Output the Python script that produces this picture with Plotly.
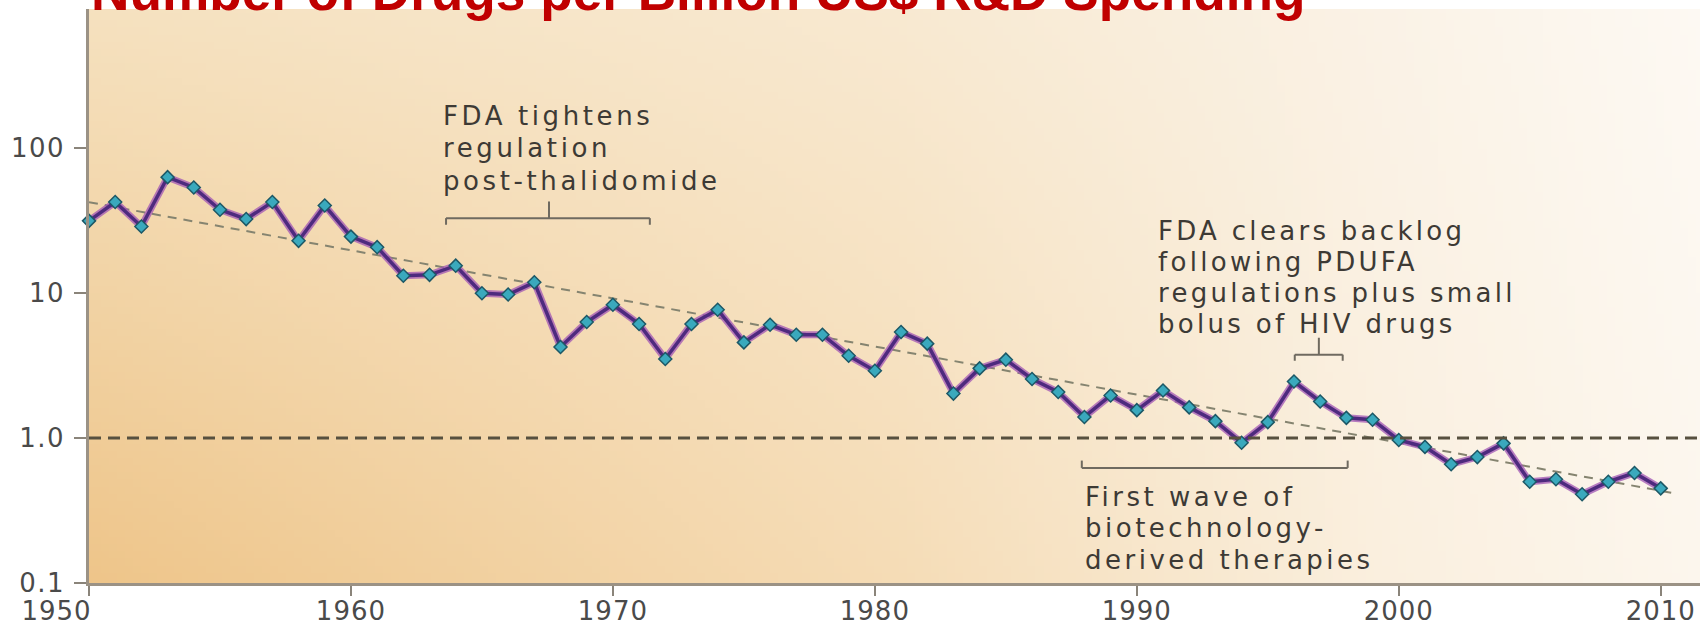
import math
import zlib
import struct
import base64
import plotly.graph_objects as go

# ---------------- data ----------------
years = list(range(1950, 2011))
drugs_per_billion = [
    31.6, 42.6, 28.9, 63.3, 53.7, 37.7, 32.5, 42.6, 23.0, 40.3,
    24.6, 20.8, 13.2, 13.4, 15.5, 10.0, 9.8, 11.9, 4.26, 6.33,
    8.33, 6.13, 3.52, 6.13, 7.70, 4.58, 6.06, 5.17, 5.17, 3.70,
    2.92, 5.40, 4.49, 2.03, 3.03, 3.48, 2.56, 2.08, 1.40, 1.97,
    1.56, 2.13, 1.63, 1.31, 0.93, 1.29, 2.46, 1.79, 1.38, 1.34,
    0.97, 0.87, 0.66, 0.74, 0.92, 0.50, 0.52, 0.41, 0.50, 0.575,
    0.45,
]
trend_years = [1950, 2010.4]
trend_values = [42.5, 0.42]
reference_level = 1.0

x_tick_vals = [1950, 1960, 1970, 1980, 1990, 2000, 2010]
x_tick_labels = ["1950", "1960", "1970", "1980", "1990", "2000", "2010"]
y_tick_vals = [0.1, 1, 10, 100]
y_tick_labels = ["0.1", "1.0", "10", "100"]

title_text = "Number of Drugs per Billion US$ R&D Spending"

# brackets: (start year, end year, centre year, line value, end-tick value, centre-tick value)
bracket_thalidomide = [1963.63, 1971.41, 1967.56, 33.0, 29.7, 43.0]
bracket_pdufa = [1996.03, 1997.86, 1996.95, 3.77, 3.42, 4.93]
bracket_biotech = [1987.9, 1998.05, None, 0.623, 0.70, None]

note_thalidomide = ["FDA tightens", "regulation", "post-thalidomide"]
note_pdufa = ["FDA clears backlog", "following PDUFA", "regulations plus small", "bolus of HIV drugs"]
note_biotech = ["First wave of", "biotechnology-", "derived therapies"]
# (left year, value at the middle of the first line)
note_thalidomide_pos = [1963.45, 168]
note_pdufa_pos = [1990.75, 26.8]
note_biotech_pos = [1987.95, 0.395]

# background gradient colour stops (horizontal position, top colour, bottom colour)
bg_u = [0.0, 0.5, 0.8, 1.0]
bg_top = [(245, 225, 191), (248, 233, 209), (250, 242, 230), (253, 249, 243)]
bg_bottom = [(238, 197, 138), (245, 220, 182), (250, 239, 222), (252, 246, 237)]


# ---------------- helpers ----------------
def lerp(a, b, t):
    return a + (b - a) * t


def interp_stops(u, stops, cols):
    for k in range(len(stops) - 1):
        if stops[k] <= u <= stops[k + 1]:
            t = (u - stops[k]) / (stops[k + 1] - stops[k])
            return tuple(lerp(cols[k][c], cols[k + 1][c], t) for c in range(3))
    return cols[-1]


def gradient_png(w, h):
    raw = bytearray()
    for j in range(h):
        raw.append(0)
        v = j / (h - 1)
        for i in range(w):
            u = i / (w - 1)
            top = interp_stops(u, bg_u, bg_top)
            bot = interp_stops(u, bg_u, bg_bottom)
            raw += bytes(int(round(lerp(top[c], bot[c], v))) for c in range(3))

    def chunk(tag, data):
        c = struct.pack(">I", len(data)) + tag + data
        return c + struct.pack(">I", zlib.crc32(tag + data) & 0xFFFFFFFF)

    png = (b"\x89PNG\r\n\x1a\n"
           + chunk(b"IHDR", struct.pack(">IIBBBBB", w, h, 8, 2, 0, 0, 0))
           + chunk(b"IDAT", zlib.compress(bytes(raw), 9))
           + chunk(b"IEND", b""))
    return "data:image/png;base64," + base64.b64encode(png).decode()


def spaced(text, px):
    return "<span style='letter-spacing:{}px'>{}</span>".format(px, text)


TEXT_FONT = "DejaVu Sans"
BRACKET_COLOR = "#6f6a60"

fig = go.Figure()

# trend (dashed, thin)
fig.add_trace(go.Scatter(
    x=trend_years, y=trend_values, mode="lines",
    line=dict(color="#858470", width=2, dash="9px,7px"),
    hoverinfo="skip", showlegend=False, cliponaxis=False))

# halo of the main line
fig.add_trace(go.Scatter(
    x=years, y=drugs_per_billion, mode="lines",
    line=dict(color="rgba(160,85,180,0.75)", width=7),
    hoverinfo="skip", showlegend=False, cliponaxis=False))

# main line with markers
fig.add_trace(go.Scatter(
    x=years, y=drugs_per_billion, mode="lines+markers",
    line=dict(color="#4e2a7e", width=3.5),
    marker=dict(symbol="diamond", size=10, color="#3aa9bd",
                line=dict(color="#1d5866", width=1.5)),
    showlegend=False, cliponaxis=False))

shapes = []
# reference line at 1.0
shapes.append(dict(type="line", xref="paper", x0=0, x1=1, yref="y",
                   y0=reference_level, y1=reference_level,
                   line=dict(color="#57503f", width=3, dash="12px,7px")))


def bracket_shapes(b):
    x0, x1, xc, yl, yt, yc = b
    out = []
    ln = dict(color=BRACKET_COLOR, width=2)
    out.append(dict(type="line", xref="x", yref="y", x0=x0, x1=x1, y0=yl, y1=yl, line=ln))
    out.append(dict(type="line", xref="x", yref="y", x0=x0, x1=x0, y0=yl, y1=yt, line=ln))
    out.append(dict(type="line", xref="x", yref="y", x0=x1, x1=x1, y0=yl, y1=yt, line=ln))
    if xc is not None:
        out.append(dict(type="line", xref="x", yref="y", x0=xc, x1=xc, y0=yl, y1=yc, line=ln))
    return out


shapes += bracket_shapes(bracket_thalidomide)
shapes += bracket_shapes(bracket_pdufa)
shapes += bracket_shapes(bracket_biotech)

annotations = []


def note(lines, pos, gap, size, spacing):
    out = []
    for i, ln in enumerate(lines):
        out.append(dict(x=pos[0], y=math.log10(pos[1]), xref="x", yref="y",
                        yshift=-i * gap, xanchor="left", yanchor="middle",
                        align="left", showarrow=False, text=spaced(ln, spacing),
                        font=dict(family=TEXT_FONT, size=size, color="#3d3a35")))
    return out


annotations += note(note_thalidomide, note_thalidomide_pos, 32.5, 26, 3.6)
annotations += note(note_pdufa, note_pdufa_pos, 30.8, 26, 3.3)
annotations += note(note_biotech, note_biotech_pos, 31.5, 26, 3.5)

# title (partly cut off at the top, as in the original)
annotations.append(dict(
    x=0, y=1.0845, xref="paper", yref="paper", xanchor="left", yanchor="top",
    xshift=0, showarrow=False, text="<b>" + title_text + "</b>",
    font=dict(family="Liberation Sans, Arial", size=53.2, color="#c00000")))

x_tick_text = [spaced(t, 1) for t in x_tick_labels]
x_tick_text[0] = spaced(x_tick_labels[0] + "\u00a0" * 7, 1)
y_tick_text = [spaced(t, 1.5) for t in y_tick_labels]

fig.update_layout(
    width=1700, height=626,
    margin=dict(l=89, r=0, t=9, b=43, autoexpand=False),
    paper_bgcolor="white", plot_bgcolor="rgba(0,0,0,0)",
    shapes=shapes, annotations=annotations,
    images=[dict(source=gradient_png(200, 80), xref="paper", yref="paper",
                 x=0, y=1, sizex=1, sizey=1, xanchor="left", yanchor="top",
                 sizing="stretch", layer="below")],
    xaxis=dict(range=[1950, 2011.5], tickvals=x_tick_vals, ticktext=x_tick_text,
               ticks="outside", ticklen=10, tickwidth=2, tickcolor="#8a847a",
               showline=True, linecolor="#9b9285", linewidth=2.5,
               showgrid=False, zeroline=False, automargin=False,
               ticklabelstandoff=-7,
               tickfont=dict(family=TEXT_FONT, size=26, color="#4a4a4a")),
    yaxis=dict(type="log", range=[-1, 2.962], tickvals=y_tick_vals, ticktext=y_tick_text,
               ticks="outside", ticklen=12, tickwidth=2, tickcolor="#8a847a",
               showline=True, linecolor="#9b9285", linewidth=2.5,
               showgrid=False, zeroline=False, automargin=False,
               ticklabelstandoff=4,
               tickfont=dict(family=TEXT_FONT, size=26, color="#4a4a4a")),
)

# the page should start at its very corner, like the reference picture
fig.write_html("out.html", config={"displayModeBar": False},
               post_script="document.body.style.margin='0';")
